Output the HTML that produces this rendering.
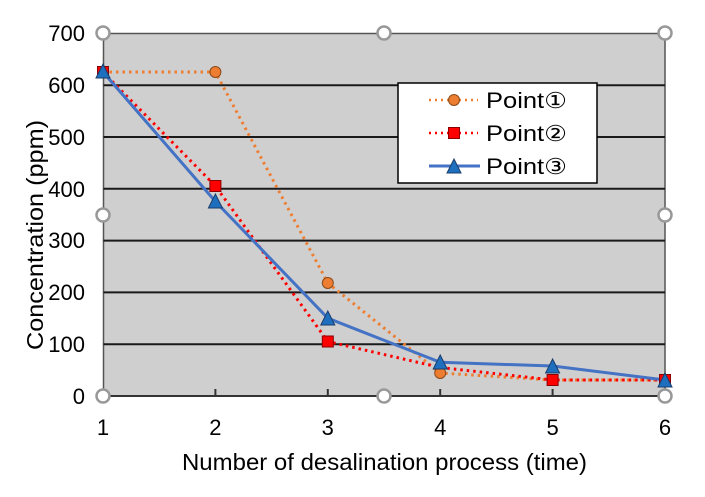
<!DOCTYPE html>
<html><head><style>body{margin:0;background:#fff}svg{display:block}text{font-family:"Liberation Sans",Arial,sans-serif;fill:#000}</style></head><body>
<svg width="705" height="497" viewBox="0 0 705 497">
<rect x="103.5" y="33.5" width="561.5" height="362.5" fill="#d0cfcf" stroke="#555" stroke-width="1.5"/>
<g stroke="#1a1a1a" stroke-width="2">
<line x1="103.5" x2="665" y1="85.2" y2="85.2"/><line x1="103.5" x2="665" y1="137" y2="137"/><line x1="103.5" x2="665" y1="188.8" y2="188.8"/><line x1="103.5" x2="665" y1="240.6" y2="240.6"/><line x1="103.5" x2="665" y1="292.4" y2="292.4"/><line x1="103.5" x2="665" y1="344.2" y2="344.2"/>
</g>
<line x1="103.5" x2="665" y1="396" y2="396" stroke="#333" stroke-width="2"/>
<g stroke="#333" stroke-width="2"><line x1="215.4" x2="215.4" y1="389" y2="396"/><line x1="327.8" x2="327.8" y1="389" y2="396"/><line x1="440.2" x2="440.2" y1="389" y2="396"/><line x1="552.6" x2="552.6" y1="389" y2="396"/></g>
<g font-size="22" text-anchor="end">
<text x="85" y="404">0</text><text x="85" y="352">100</text><text x="85" y="300">200</text><text x="85" y="248">300</text><text x="85" y="197">400</text><text x="85" y="145">500</text><text x="85" y="93">600</text><text x="85" y="41">700</text></g>
<g font-size="22" text-anchor="middle">
<text x="103" y="435">1</text><text x="215.4" y="435">2</text><text x="327.8" y="435">3</text><text x="440.2" y="435">4</text><text x="552.6" y="435">5</text><text x="665" y="435">6</text></g>
<text x="182" y="470" font-size="23" textLength="405" lengthAdjust="spacingAndGlyphs">Number of desalination process (time)</text>
<text transform="translate(43,350) rotate(-90)" font-size="23" textLength="230" lengthAdjust="spacingAndGlyphs">Concentration (ppm)</text>
<polyline points="103,72 215.4,72 327.8,283 440.2,373 552.6,380 665,380" fill="none" stroke="#ed7d31" stroke-width="3" stroke-dasharray="2.5 4"/>
<polyline points="103,72 215.4,186 327.8,341.5 440.2,367.5 552.6,380 665,380" fill="none" stroke="#ff0000" stroke-width="3" stroke-dasharray="2.5 4"/>
<polyline points="103,72 215.4,201.5 327.8,318.2 440.2,362.3 552.6,366 665,380" fill="none" stroke="#4472c4" stroke-width="3"/>
<g fill="#ed7d31" stroke="#8a4a1a" stroke-width="1"><circle cx="215.4" cy="72" r="5.5"/><circle cx="327.8" cy="283" r="5.5"/><circle cx="440.2" cy="373" r="5.5"/></g>
<g fill="#ff0000" stroke="#800" stroke-width="1"><rect x="97.5" y="66.5" width="11" height="11"/><rect x="209.9" y="180.5" width="11" height="11"/><rect x="322.3" y="336" width="11" height="11"/><rect x="547.1" y="374.5" width="11" height="11"/><rect x="659.5" y="374.5" width="11" height="11"/></g>
<g fill="#1f6fbf" stroke="#1a3d6b" stroke-width="1">
<path d="M103,64 L110,78 L96,78Z"/><path d="M215.4,194 L222.4,208 L208.4,208Z"/><path d="M327.8,311 L334.8,325 L320.8,325Z"/><path d="M440.2,355 L447.2,369 L433.2,369Z"/><path d="M552.6,359 L559.6,373 L545.6,373Z"/><path d="M665,373 L672,387 L658,387Z"/></g>
<g fill="#fff" stroke="#999" stroke-width="2.5">
<circle cx="103" cy="33" r="6.5"/><circle cx="384" cy="33" r="6.5"/><circle cx="665" cy="33" r="6.5"/><circle cx="103" cy="215" r="6.5"/><circle cx="665" cy="215" r="6.5"/><circle cx="103" cy="396" r="6.5"/><circle cx="384" cy="396" r="6.5"/><circle cx="665" cy="396" r="6.5"/></g>
<rect x="398" y="83" width="199" height="100" fill="#fff" stroke="#000" stroke-width="1.5"/>
<line x1="429" x2="478" y1="100" y2="100" stroke="#ed7d31" stroke-width="2.5" stroke-dasharray="2 4"/>
<circle cx="454" cy="100" r="5.5" fill="#ed7d31" stroke="#8a4a1a"/>
<line x1="429" x2="478" y1="133" y2="133" stroke="#ff0000" stroke-width="2.5" stroke-dasharray="2 4"/>
<rect x="448.5" y="127.5" width="11" height="11" fill="#ff0000" stroke="#800"/>
<line x1="429" x2="480" y1="166" y2="166" stroke="#4472c4" stroke-width="3"/>
<path d="M454,159 L461,173 L447,173Z" fill="#1f6fbf" stroke="#1a3d6b"/>
<g font-size="22"><text x="486" y="108" textLength="81" lengthAdjust="spacingAndGlyphs">Point①</text><text x="486" y="141" textLength="81" lengthAdjust="spacingAndGlyphs">Point②</text><text x="486" y="174" textLength="81" lengthAdjust="spacingAndGlyphs">Point③</text></g>
</svg></body></html>
